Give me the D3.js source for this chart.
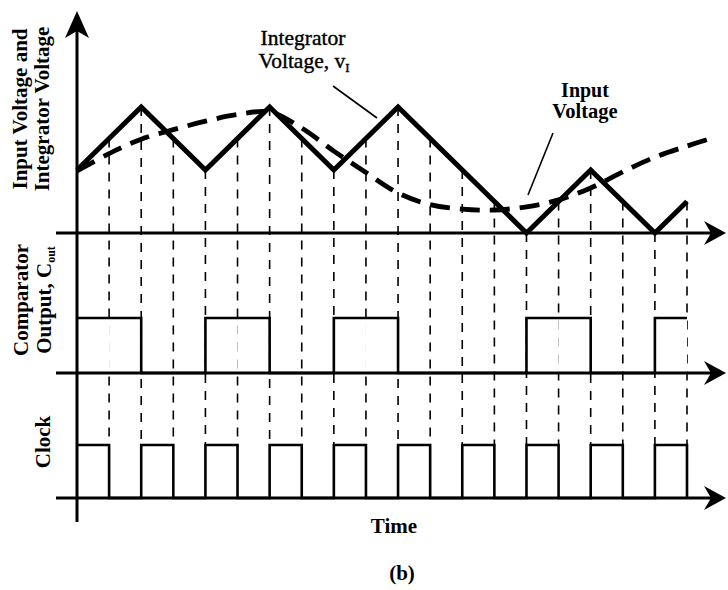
<!DOCTYPE html>
<html>
<head>
<meta charset="utf-8">
<script src="https://d3js.org/d3.v7.min.js"></script>
<style>
  body { margin: 0; background: #fff; }
  text { font-family: "Liberation Serif", "Times New Roman", serif; fill: #000; }
</style>
</head>
<body>
<div id="chart"></div>
<script>

// clock edges (time index) where the dashed guide lines are drawn
var gridTimes = [1, 2, 3, 4, 5, 6, 7, 8, 9, 10, 11, 12, 13, 14, 15, 16, 17, 18, 19];

// integrator voltage: corners of the triangle wave
var integratorTime  = [0, 2, 4, 6, 8, 10, 14, 16, 18, 19];
var integratorValue = [2, 4, 2, 4, 2, 4, 0, 2, 0, 1];

// input voltage
var inputTime  = [0, 1, 2, 3, 4, 5, 6, 7, 8, 9, 10, 11, 12, 13, 14, 15, 16, 17, 18, 19, 19.8];
var inputValue = [1.97, 2.52, 2.98, 3.28, 3.55, 3.76, 3.84, 3.33, 2.6, 1.92, 1.27, 0.9, 0.76, 0.73, 0.83, 1.05, 1.43, 1.94, 2.41, 2.76, 3.02];

// comparator output and clock, level per clock interval (k .. k+1)
var compLevel  = [1, 1, 0, 0, 1, 1, 0, 0, 1, 1, 0, 0, 0, 0, 1, 1, 0, 0, 1];
var clockLevel = [1, 0, 1, 0, 1, 0, 1, 0, 1, 0, 1, 0, 1, 0, 1, 0, 1, 0, 1];

var width = 728, height = 590;

var svg = d3.select("#chart")
  .append("svg")
    .attr("width", width)
    .attr("height", height);

var x = d3.scaleLinear().domain([0, 19]).range([77, 687]);
var yTop = d3.scaleLinear().domain([0, 4]).range([233, 107]);
var yComp = d3.scaleLinear().domain([0, 1]).range([373, 318]);
var yClock = d3.scaleLinear().domain([0, 1]).range([498, 445]);

// integrator value at any time (piecewise linear through the corners)
var vInt = d3.scaleLinear().domain(integratorTime).range(integratorValue);

// dashed guide lines
svg.selectAll("line.grid")
  .data(gridTimes)
  .enter()
  .append("line")
    .attr("class", "grid")
    .attr("x1", function(d) { return x(d); })
    .attr("x2", function(d) { return x(d); })
    .attr("y1", function(d) { return yTop(vInt(d)); })
    .attr("y2", yClock(1))
    .attr("stroke", "#000")
    .attr("stroke-width", 1.6)
    .attr("stroke-dasharray", "9,8");

// guide lines are hidden inside the comparator pulses
svg.selectAll("rect.mask")
  .data(compLevel.map(function(l, i) { return {t: i, l: l}; }).filter(function(d) { return d.l == 1; }))
  .enter()
  .append("rect")
    .attr("x", function(d) { return x(d.t); })
    .attr("width", function(d) { return x(d.t + 1) - x(d.t); })
    .attr("y", yComp(1))
    .attr("height", yComp(0) - yComp(1))
    .attr("fill", "#fff");

// step signals
function stepPoints(levels, endLevel) {
  var pts = levels.map(function(l, i) { return [i, l]; });
  pts.push([levels.length, endLevel]);
  return pts;
}

svg.append("path")
  .datum(stepPoints(compLevel, 1))
  .attr("d", d3.line().curve(d3.curveStepAfter)
    .x(function(d) { return x(d[0]); })
    .y(function(d) { return yComp(d[1]); }))
  .attr("fill", "none")
  .attr("stroke", "#000")
  .attr("stroke-width", 2.6);

svg.append("path")
  .datum(stepPoints(clockLevel, 0))
  .attr("d", d3.line().curve(d3.curveStepAfter)
    .x(function(d) { return x(d[0]); })
    .y(function(d) { return yClock(d[1]); }))
  .attr("fill", "none")
  .attr("stroke", "#000")
  .attr("stroke-width", 2.6);

// input voltage (dashed curve)
svg.append("path")
  .datum(inputTime.map(function(t, i) { return [t, inputValue[i]]; }))
  .attr("d", d3.line().curve(d3.curveCatmullRom)
    .x(function(d) { return x(d[0]); })
    .y(function(d) { return yTop(d[1]); }))
  .attr("fill", "none")
  .attr("stroke", "#000")
  .attr("stroke-width", 4.8)
  .attr("stroke-dasharray", "20,10");

// integrator voltage
svg.append("path")
  .datum(integratorTime.map(function(t, i) { return [t, integratorValue[i]]; }))
  .attr("d", d3.line()
    .x(function(d) { return x(d[0]); })
    .y(function(d) { return yTop(d[1]); }))
  .attr("fill", "none")
  .attr("stroke", "#000")
  .attr("stroke-width", 5)
  .attr("stroke-linejoin", "miter");

// axes
var axisLeft = 56, arrowTip = 726;
[yTop(0), yComp(0), yClock(0)].forEach(function(y0) {
  svg.append("line")
    .attr("x1", axisLeft).attr("x2", arrowTip - 12)
    .attr("y1", y0).attr("y2", y0)
    .attr("stroke", "#000").attr("stroke-width", 3);
  svg.append("path")
    .attr("d", "M" + arrowTip + "," + y0 + " L" + (arrowTip - 22) + "," + (y0 - 12) +
               " L" + (arrowTip - 15) + "," + y0 + " L" + (arrowTip - 22) + "," + (y0 + 12) + " Z")
    .attr("fill", "#000");
});

svg.append("line")
  .attr("x1", x(0)).attr("x2", x(0))
  .attr("y1", 28).attr("y2", 522)
  .attr("stroke", "#000").attr("stroke-width", 3);
svg.append("path")
  .attr("d", "M" + x(0) + ",11 L" + (x(0) - 12) + ",38 L" + x(0) + ",31 L" + (x(0) + 12) + ",38 Z")
  .attr("fill", "#000");

// axis titles (rotated)
function rotatedLabel(cy, lines) {
  var g = svg.append("g").attr("transform", "translate(0," + cy + ") rotate(-90)");
  lines.forEach(function(l) {
    var t = g.append("text")
      .attr("x", 0)
      .attr("y", l.base)
      .attr("text-anchor", "middle")
      .style("font-size", "21px")
      .style("font-weight", "bold");
    t.append("tspan").text(l.text);
    if (l.sub) {
      t.append("tspan").attr("dy", 4).style("font-size", "12px").text(l.sub);
    }
  });
}
rotatedLabel(109, [{text: "Input Voltage and", base: 27}, {text: "Integrator Voltage", base: 49}]);
rotatedLabel(300, [{text: "Comparator", base: 28}, {text: "Output, C", sub: "out", base: 51}]);
rotatedLabel(442, [{text: "Clock", base: 50}]);

// annotations
svg.append("text").attr("x", 303).attr("y", 45).attr("text-anchor", "middle")
  .style("font-size", "21.5px").attr("stroke", "#000").attr("stroke-width", 0.4)
  .text("Integrator");
var iv = svg.append("text").attr("x", 304).attr("y", 68).attr("text-anchor", "middle")
  .style("font-size", "21.5px").attr("stroke", "#000").attr("stroke-width", 0.4);
iv.append("tspan").text("Voltage, v");
iv.append("tspan").attr("dy", 4).style("font-size", "13px").text("I");
svg.append("line").attr("x1", 333).attr("y1", 86).attr("x2", 377).attr("y2", 118)
  .attr("stroke", "#000").attr("stroke-width", 1.6);

svg.append("text").attr("x", 585).attr("y", 97).attr("text-anchor", "middle")
  .style("font-size", "20px").style("font-weight", "bold").text("Input");
svg.append("text").attr("x", 585).attr("y", 118).attr("text-anchor", "middle")
  .style("font-size", "20.5px").style("font-weight", "bold").text("Voltage");
svg.append("line").attr("x1", 553).attr("y1", 133).attr("x2", 528).attr("y2", 195)
  .attr("stroke", "#000").attr("stroke-width", 1.6);

svg.append("text").attr("x", 394).attr("y", 533).attr("text-anchor", "middle")
  .style("font-size", "21px").style("font-weight", "bold").text("Time");
svg.append("text").attr("x", 402).attr("y", 580).attr("text-anchor", "middle")
  .style("font-size", "21px").style("font-weight", "bold").text("(b)");

</script>
</body>
</html>
